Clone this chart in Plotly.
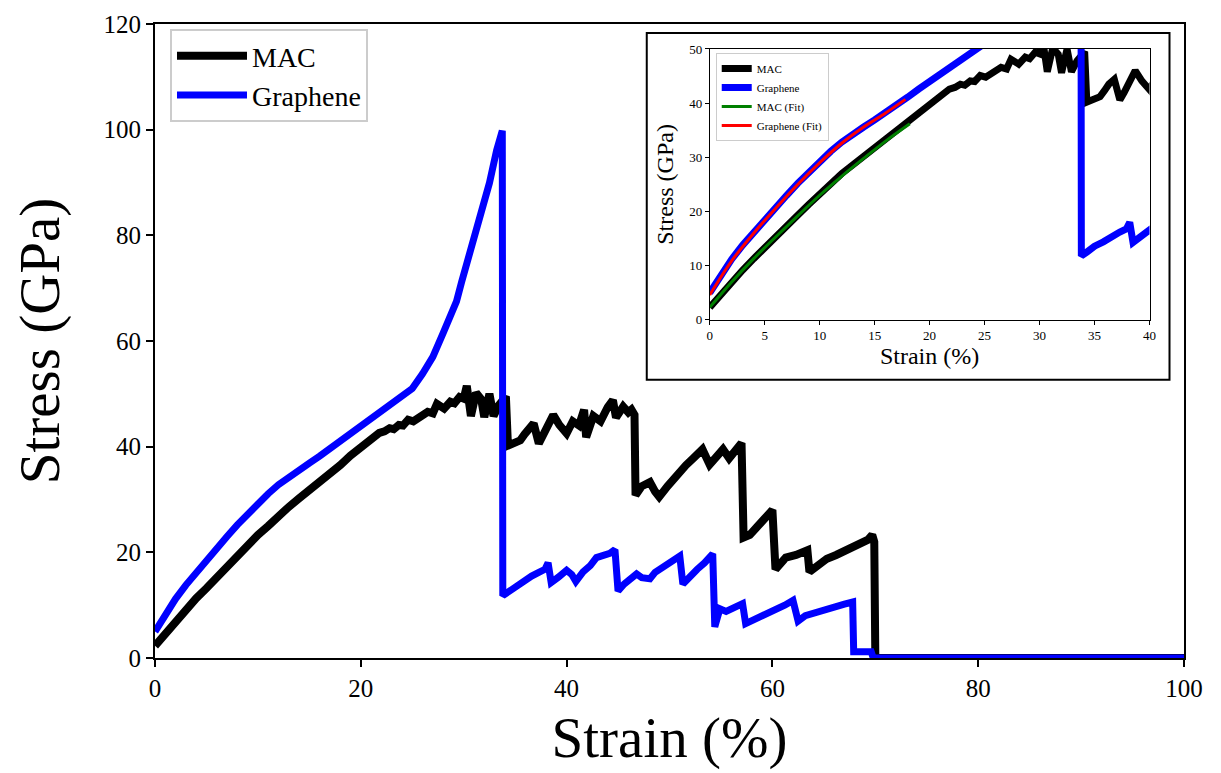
import plotly.graph_objects as go

# ---------------- data ----------------
mac_strain = [0, 1, 2, 3, 4, 5, 6, 7, 8, 9, 10, 11, 12, 13, 14, 15, 16, 17, 18,
              19.0, 19.9, 20.9, 21.8, 22.3, 22.8, 23.2, 23.7, 24.1, 24.6, 25.1, 25.6,
              26.0, 26.5, 27.0, 27.4, 28.1, 28.7, 29.1, 29.6, 30.0, 30.3, 30.7, 31.2,
              31.7, 32.0, 32.5, 32.9, 33.4, 33.9, 34.1, 34.3,
              35.0, 35.5, 35.9, 36.3, 36.8, 37.3, 37.7, 38.1, 38.7, 39.3, 40.0, 40.6,
              41.2, 41.7, 41.9, 42.6, 43.3, 44.0, 44.5, 44.8, 45.5, 46.0, 46.3, 46.6,
              46.7, 47.3, 48.1, 48.6, 49.0, 49.8, 50.4, 51.0, 51.6, 52.3, 53.2, 53.9,
              54.5, 55.2, 55.8, 56.4, 57.0, 57.2, 57.8, 58.5, 59.2, 60.0, 60.3, 60.8,
              61.3, 62.3, 63.4, 63.6, 64.5, 65.3, 66.2, 67.0, 67.8, 68.8, 69.3, 69.7,
              69.9, 70.0, 70.3, 100]
mac_stress = [2.3, 4.7, 7.0, 9.2, 11.3, 13.2, 15.3, 17.3, 19.3, 21.3, 23.3, 25.0, 27.0,
              28.6, 30.2, 31.7, 33.2, 34.8, 36.5,
              38.3, 39.8, 41.3, 42.6, 42.9, 43.5, 43.3, 44.1, 44.0, 45.1, 44.8, 45.4,
              45.9, 46.6, 46.3, 48.1, 47.2, 48.5, 48.2, 49.4, 49.1, 51.5, 45.8, 50.2,
              49.0, 45.6, 50.0, 45.8, 47.8, 49.4, 49.5, 40.2,
              40.8, 41.2, 42.3, 43.5, 44.4, 40.6, 42.0, 43.5, 46.0, 44.1, 42.5, 44.8,
              44.0, 47.0, 41.8, 45.8, 44.8, 47.5, 48.8, 45.5, 47.6, 46.5, 47.0, 46.0,
              30.8, 32.5, 33.3, 31.5, 30.5, 32.5, 34.0, 35.1, 36.5, 37.8, 39.5, 36.6,
              38.2, 39.5, 37.8, 39.0, 40.7, 22.8, 23.3, 24.8, 26.5, 28.0, 16.8, 17.8,
              19.0, 19.5, 20.4, 16.3, 17.8, 18.8, 19.5, 20.3, 21.0, 21.8, 22.4, 23.3,
              22.0, 0.5, 0, 0]

gr_strain = [0, 1, 2, 3, 4, 5, 6, 7, 8, 9, 10, 11, 12, 13, 14, 15, 16, 17, 18, 19,
             20, 21, 22, 23, 24, 25, 26, 27, 28, 28.8, 29.3, 29.8, 30.7, 31.7, 32.5,
             33.2, 33.75, 33.8, 34.3, 35.0, 35.8, 36.6, 37.3, 37.9, 38.2, 38.5, 39.2,
             40.0, 40.5, 40.9, 41.6, 42.3, 42.9, 43.6, 44.2, 44.7, 45.0, 45.6, 46.2,
             46.8, 47.3, 48.1, 48.6, 49.2, 49.8, 50.4, 51.0, 51.3, 52.0, 52.7, 53.4,
             54.2, 54.4, 54.9, 55.5, 56.3, 57.1, 57.4, 58.0, 58.8, 59.7, 60.5, 61.2,
             62.0, 62.5, 63.2, 64.0, 64.8, 65.5, 66.2, 67.0, 67.8, 67.9, 69.6, 69.8, 100]
gr_stress = [5.0, 8.3, 11.2, 13.8, 16.2, 18.5, 20.8, 23.0, 25.2, 27.3, 29.3, 31.1, 32.8,
             34.3, 35.6, 36.9, 38.2, 39.6, 41.1, 42.6, 44.0, 45.2, 46.5, 48.0, 49.5,
             51.0, 53.8, 57.0, 61.5, 65.6, 67.5, 71.2, 77.5, 83.7, 89.9, 96.1, 99.8,
             11.8, 12.5, 13.6, 14.4, 15.5, 16.2, 16.8, 18.0, 14.3, 15.3, 16.6, 15.8,
             14.5, 16.3, 17.5, 19.0, 19.3, 19.8, 20.5, 12.7, 14.0, 15.0, 15.9, 15.2,
             15.0, 16.2, 17.0, 17.8, 18.4, 19.3, 14.0, 15.5, 16.8, 18.0, 19.7, 5.9,
             9.3, 8.8, 9.5, 10.3, 6.5, 7.0, 7.9, 8.6, 9.2, 10.0, 10.9, 7.0, 8.0, 8.5,
             9.0, 9.6, 9.9, 10.2, 10.6, 1.2, 1.2, 0, 0]

mac_fit_strain = [0, 2, 4, 6, 8, 10, 12, 14, 16, 18.2]
mac_fit_stress = [2.3, 7.0, 11.3, 15.3, 19.2, 23.0, 26.5, 29.8, 33.0, 36.2]
gr_fit_strain = [0, 2, 4, 6, 8, 10, 12, 14, 16, 17.8]
gr_fit_stress = [4.6, 10.9, 16.0, 20.6, 25.0, 29.0, 32.6, 35.6, 38.2, 40.7]

main_xticks = [0, 20, 40, 60, 80, 100]
main_yticks = [0, 20, 40, 60, 80, 100, 120]
inset_xticks = [0, 5, 10, 15, 20, 25, 30, 35, 40]
inset_yticks = [0, 10, 20, 30, 40, 50]

FONT = "Liberation Serif"
OFF = 8  # page body margin
W, H = 1221 - OFF, 773 - OFF
# main plot area in reference pixels (top nudged so the "120" label stays inside)
L, R, T, B = 155.0, 1184.5, 24.0, 658.3
PW, PH = R - L, B - T


def px(x):
    return (x - L) / PW


def py(y):
    return (B - y) / PH


fig = go.Figure()

fig.add_trace(go.Scatter(x=mac_strain, y=mac_stress, mode="lines", name="MAC",
                         line=dict(color="black", width=8), xaxis="x", yaxis="y",
                         legend="legend"))
fig.add_trace(go.Scatter(x=gr_strain, y=gr_stress, mode="lines", name="Graphene",
                         line=dict(color="#0000ff", width=7), xaxis="x", yaxis="y",
                         legend="legend"))
fig.add_trace(go.Scatter(x=mac_strain, y=mac_stress, mode="lines", name="MAC",
                         line=dict(color="black", width=7), xaxis="x2", yaxis="y2",
                         legend="legend2"))
fig.add_trace(go.Scatter(x=gr_strain, y=gr_stress, mode="lines", name="Graphene",
                         line=dict(color="#0000ff", width=7), xaxis="x2", yaxis="y2",
                         legend="legend2"))
fig.add_trace(go.Scatter(x=mac_fit_strain, y=mac_fit_stress, mode="lines", name="MAC (Fit)",
                         line=dict(color="green", width=3, shape="spline"), xaxis="x2", yaxis="y2",
                         legend="legend2"))
fig.add_trace(go.Scatter(x=gr_fit_strain, y=gr_fit_stress, mode="lines", name="Graphene (Fit)",
                         line=dict(color="red", width=3, shape="spline"), xaxis="x2", yaxis="y2",
                         legend="legend2"))

axis_common = dict(showgrid=False, zeroline=False, showline=True, linecolor="black",
                   mirror=True, ticks="outside", tickcolor="black", automargin=False,
                   ticklabeloverflow="allow")

fig.update_layout(
    width=W, height=H,
    margin=dict(l=L - OFF, r=1221 - R, t=T - OFF, b=773 - B, pad=0),
    paper_bgcolor="white", plot_bgcolor="white",
    font=dict(family=FONT, color="black"),
    xaxis=dict(**axis_common, domain=[0, 1], range=[0, 100],
               tickvals=main_xticks, linewidth=2, tickwidth=2, ticklen=7,
               tickfont=dict(size=25),
               title=dict(text="Strain (%)", font=dict(size=57), standoff=16),
               anchor="y"),
    yaxis=dict(**axis_common, domain=[0, 1], range=[0, 120],
               tickvals=main_yticks, linewidth=2, tickwidth=2, ticklen=7,
               tickfont=dict(size=25),
               title=dict(text="Stress (GPa)", font=dict(size=57), standoff=30),
               anchor="x"),
    xaxis2=dict(**axis_common, domain=[px(710), px(1150)], range=[0, 40],
                tickvals=inset_xticks, linewidth=1, tickwidth=1, ticklen=4,
                tickfont=dict(size=13),
                title=dict(text="Strain (%)", font=dict(size=24), standoff=3),
                anchor="y2"),
    yaxis2=dict(**axis_common, domain=[py(320), py(49)], range=[0, 50],
                tickvals=inset_yticks, linewidth=1, tickwidth=1, ticklen=4,
                tickfont=dict(size=13),
                title=dict(text="Stress (GPa)", font=dict(size=24), standoff=8),
                anchor="x2"),
    legend=dict(x=px(170), y=py(29), xanchor="left", yanchor="top",
                bgcolor="rgba(255,255,255,0.8)", bordercolor="#cccccc", borderwidth=2,
                font=dict(size=28, family=FONT), itemwidth=70),
    legend2=dict(x=px(716), y=py(53), xanchor="left", yanchor="top",
                 bgcolor="rgba(255,255,255,0.8)", bordercolor="#cccccc", borderwidth=1,
                 font=dict(size=11, family=FONT), itemwidth=30),
    shapes=[dict(type="rect", xref="paper", yref="paper",
                 x0=px(647), x1=px(1170), y0=py(380), y1=py(33),
                 line=dict(color="black", width=2), fillcolor="rgba(0,0,0,0)",
                 layer="above")],
)

fig.write_html("out.html")
